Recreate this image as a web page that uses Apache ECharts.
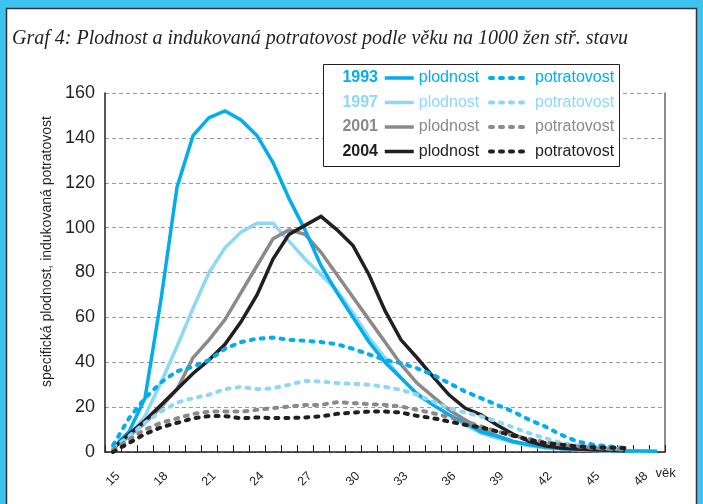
<!DOCTYPE html>
<html>
<head>
<meta charset="utf-8">
<script src="https://cdn.jsdelivr.net/npm/echarts@6/dist/echarts.min.js"></script>
<style>
  html, body { margin: 0; padding: 0; background: #3ec3f0; }
  #chart { width: 703px; height: 504px; }
</style>
</head>
<body>
<div id="chart"></div>
<script>
// age 15..49, per 1000 women
const ages = [];
for (let a = 15; a <= 49; a++) ages.push(String(a));

const years = ['1993', '1997', '2001', '2004'];
const colors = ['#00adef', '#8dd8f7', '#8a8a8a', '#231f20'];

const fert1993 = [2, 9, 24, 68, 118, 141, 149, 152, 148, 141, 129, 113, 99, 83, 71, 60, 49, 40, 33,
  26, 21, 16.6, 13, 9, 7, 4.7, 3.3, 2.2, 1.6, 1.3, 1, 0.8, 0.5, 0.4, 0.3];
const fert1997 = [2, 7, 16, 31, 47, 64, 80, 91, 98, 102, 102, 94, 86, 79, 72, 62, 51, 42, 33,
  25.5, 21, 16.6, 12, 8.4, 6.2, 4.3, 2.8, 1.8, 1.3, 1, 0.7, 0.5, 0.4, 0.3, 0.2];
const fert2001 = [2, 7, 13, 20, 28, 42, 50, 59, 71, 83, 95, 99, 97, 89, 79, 69, 59, 49, 39,
  30.7, 24.7, 18.8, 14.4, 10.2, 7.3, 4.7, 3.3, 2.2, 1.6, 1.3, 1, 0.7, 0.5, null, null];
const fert2004 = [1.5, 8, 14, 21, 28, 35, 41, 48, 58, 70, 86, 97, 101, 105, 99, 92, 79, 63, 50,
  42, 33.6, 25.5, 19.6, 16.6, 12, 8, 4.7, 2.8, 1.8, 1.3, 1, 0.8, 0.6, null, null];

const abort1993 = [3, 15, 24, 31, 36, 38, 41, 46, 49, 50.5, 51, 50, 49.6, 49, 48, 46, 43.5, 41, 39.6,
  37.3, 34.4, 30.7, 27, 24, 21, 18, 14.4, 11.4, 7.7, 4.7, 3.3, 2.5, 1.8, null, null];
const abort1997 = [2, 7, 13, 18, 22, 24, 25.5, 28, 29, 28, 28.4, 30, 31.7, 31.4, 30.7, 30.4, 30, 29, 27.7,
  25.5, 22.5, 19.6, 17.6, 15.9, 13.6, 11, 8.4, 6.2, 4, 3, 2.2, 1.6, 1.3, null, null];
const abort2001 = [1, 5.5, 10, 13, 15, 17, 18, 18, 18, 18.8, 19.5, 20.3, 21, 21, 22.2, 21.8, 21.3, 21, 20.3,
  18.8, 17.3, 15.6, 13.6, 11.4, 9.2, 7.3, 5.8, 4.4, 3.3, 2.5, 1.8, 1.3, 1, null, null];
const abort2004 = [0, 4, 8, 11, 13, 15, 16, 16, 15, 15.4, 15.1, 15.1, 15.4, 15.9, 17, 17.6, 18, 18, 17.6,
  16.1, 15.1, 13.6, 12.1, 11, 9.2, 7.3, 5.5, 4, 3.3, 2.5, 2.2, 1.9, 1.8, null, null];

const fertility = [fert1993, fert1997, fert2001, fert2004];
const abortion = [abort1993, abort1997, abort2001, abort2004];

const ink = '#231f20';
const sans = 'Liberation Sans';

function solid(i) {
  return {
    name: years[i] + ' plodnost',
    type: 'line',
    data: fertility[i],
    symbol: 'none',
    color: colors[i],
    lineStyle: { width: 3.5, color: colors[i], join: 'miter' }
  };
}

function dashed(i) {
  return {
    name: years[i] + ' potratovost',
    type: 'line',
    data: abortion[i],
    symbol: 'none',
    color: colors[i],
    lineStyle: { width: 4, color: colors[i], type: [3, 7], cap: 'round' }
  };
}

// draw order: solids under dashes
const series = [solid(1), solid(2), solid(0), solid(3), dashed(1), dashed(0), dashed(2), dashed(3)];

const solidLegend = years.map((y, i) => ({ name: y + ' plodnost', textStyle: { color: colors[i] } }));
const dashedLegend = years.map((y, i) => ({ name: y + ' potratovost', textStyle: { color: colors[i] } }));

const yearLabels = years.map((y, i) => ({
  type: 'text',
  z: 6,
  x: 378,
  y: 78 + i * 24.5,
  style: { text: y, fill: colors[i], font: 'bold 16px "Liberation Sans"', align: 'right', verticalAlign: 'middle' }
}));

const legendBase = {
  top: 70,
  orient: 'vertical',
  padding: 0,
  itemGap: 8.5,
  itemHeight: 16,
  z: 6,
  itemStyle: { opacity: 0, borderWidth: 0 },
  formatter: name => name.split(' ')[1]
};

const chart = echarts.init(document.getElementById('chart'));
chart.setOption({
  backgroundColor: '#3ec3f0',
  animation: false,
  textStyle: { fontFamily: sans },
  graphic: [
    {
      type: 'rect',
      z: -10,
      shape: { x: 6.5, y: 8.5, width: 690, height: 510 },
      style: { fill: '#fff', stroke: '#333', lineWidth: 1.5 }
    },
    {
      type: 'text',
      x: 12,
      y: 39,
      style: {
        text: 'Graf 4: Plodnost a indukovaná potratovost podle věku na 1000 žen stř. stavu',
        fill: ink,
        font: 'italic 20px "Liberation Serif"',
        verticalAlign: 'middle'
      }
    },
    {
      type: 'rect',
      z: 5,
      shape: { x: 323.5, y: 64.5, width: 296, height: 102 },
      style: { fill: '#fff', stroke: ink, lineWidth: 1 }
    }
  ].concat(yearLabels),
  legend: [
    Object.assign({}, legendBase, {
      left: 383,
      itemWidth: 29,
      data: solidLegend,
      lineStyle: { width: 3.5 },
      textStyle: { fontSize: 16, fontFamily: sans, lineHeight: 16 }
    }),
    Object.assign({}, legendBase, {
      left: 488,
      itemWidth: 36,
      data: dashedLegend,
      lineStyle: { width: 4 },
      textStyle: { fontSize: 16, fontFamily: sans, lineHeight: 16, padding: [0, 0, 0, 4] }
    })
  ],
  grid: { left: 105, right: 38, top: 93, bottom: 52, containLabel: false },
  xAxis: {
    type: 'category',
    data: ages,
    boundaryGap: true,
    name: 'věk',
    nameLocation: 'end',
    nameGap: -21,
    nameTextStyle: { color: ink, fontSize: 13, verticalAlign: 'top', padding: [15, 0, 0, 0] },
    axisLine: { lineStyle: { color: ink, width: 1.5 } },
    axisTick: { show: true, inside: true, length: 7, interval: 0, lineStyle: { color: ink } },
    axisLabel: {
      interval: 2, rotate: 45, color: ink, fontSize: 12.5, margin: 27,
      align: 'center', verticalAlign: 'middle'
    },
    splitLine: { show: false }
  },
  yAxis: [
    {
      type: 'value',
      min: 0,
      max: 160,
      interval: 20,
      name: 'specifická plodnost, indukovaná potratovost',
      nameLocation: 'middle',
      nameGap: 43,
      nameTextStyle: { color: ink, fontSize: 14, padding: [0, 0, 0, 42] },
      axisLine: { show: true, lineStyle: { color: ink, width: 1.5 } },
      axisTick: { show: false },
      axisLabel: { color: ink, fontSize: 18, margin: 10 },
      splitLine: { lineStyle: { color: '#9a9a9a', type: [4, 3], width: 1 } }
    },
    {
      type: 'value',
      min: 0,
      max: 160,
      interval: 20,
      position: 'right',
      axisLine: { show: true, lineStyle: { color: '#666', width: 1.5 } },
      axisTick: { show: false },
      axisLabel: { show: false },
      splitLine: { show: false }
    }
  ],
  series: series
});
</script>
</body>
</html>
